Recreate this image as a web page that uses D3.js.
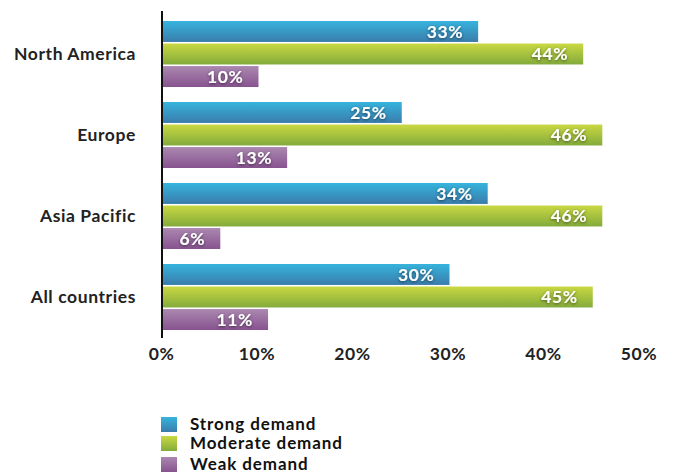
<!DOCTYPE html>
<html>
<head>
<meta charset="utf-8">
<script src="https://cdn.jsdelivr.net/npm/d3@7"></script>
<style>
  html, body { margin: 0; padding: 0; background: #fff; }
  svg { display: block; }
  text { font-family: Lato, "Open Sans", sans-serif; letter-spacing: 0.6px; }
</style>
</head>
<body>
<svg id="chart" width="673" height="472"></svg>
<script>
// Regions shown top to bottom
const regions = ["North America", "Europe", "Asia Pacific", "All countries"];
// Demand levels, in the order the bars are stacked within each region
const levels = ["Strong demand", "Moderate demand", "Weak demand"];
// Share of respondents (%) per region for each demand level
const strongDemand = [33, 25, 34, 30];
const moderateDemand = [44, 46, 46, 45];
const weakDemand = [10, 13, 6, 11];
// X axis ticks (%)
const xTicks = [0, 10, 20, 30, 40, 50];

const seriesValues = [strongDemand, moderateDemand, weakDemand];
const gradientStops = [
  ["#36b4dd", "#3a7cab"],
  ["#cad842", "#83ab3b"],
  ["#ab88b0", "#87538f"]
];

const svg = d3.select("#chart");

const x = d3.scaleLinear().domain([0, 50]).range([163, 640.5]);
const y0 = d3.scaleBand().domain(regions).range([21, 330]).paddingInner(0.185).paddingOuter(0);
const y1 = d3.scaleBand().domain(levels).range([0, y0.bandwidth()]).paddingInner(0.07);

const defs = svg.append("defs");
levels.forEach((lv, i) => {
  const g = defs.append("linearGradient").attr("id", "grad" + i)
    .attr("x1", 0).attr("y1", 0).attr("x2", 0).attr("y2", 1);
  g.append("stop").attr("offset", "0%").attr("stop-color", gradientStops[i][0]);
  g.append("stop").attr("offset", "100%").attr("stop-color", gradientStops[i][1]);
});
const glow = defs.append("filter").attr("id", "glow")
  .attr("x", "-20%").attr("y", "-40%").attr("width", "140%").attr("height", "180%");
glow.append("feDropShadow").attr("dx", 0).attr("dy", 1).attr("stdDeviation", 1.6)
  .attr("flood-color", "#000").attr("flood-opacity", 0.55);

// Bars grouped by region
const groups = svg.append("g").selectAll("g").data(regions).join("g")
  .attr("transform", r => `translate(0,${y0(r)})`);

groups.each(function(region, ri) {
  const g = d3.select(this);
  levels.forEach((lv, li) => {
    const v = seriesValues[li][ri];
    g.append("rect")
      .attr("x", x(0))
      .attr("y", y1(lv))
      .attr("width", x(v) - x(0))
      .attr("height", y1.bandwidth())
      .attr("fill", `url(#grad${li})`);
    g.append("text")
      .attr("x", x(v) - 15)
      .attr("y", y1(lv) + y1.bandwidth() / 2)
      .attr("dy", "0.36em")
      .attr("text-anchor", "end")
      .attr("fill", "#fff")
      .attr("font-size", 17.5)
      .attr("font-weight", 700)
      .attr("filter", "url(#glow)")
      .text(v + "%");
  });
});

// Region labels
svg.append("g").selectAll("text").data(regions).join("text")
  .attr("x", 136)
  .attr("y", r => y0(r) + y1("Moderate demand") + y1.bandwidth() / 2)
  .attr("dy", "0.36em")
  .attr("text-anchor", "end")
  .attr("fill", "#222")
  .attr("font-size", 17.5)
  .attr("font-weight", 700)
  .text(r => r);

// Vertical axis line
svg.append("line")
  .attr("x1", 162).attr("x2", 162)
  .attr("y1", 11).attr("y2", 338)
  .attr("stroke", "#111").attr("stroke-width", 2);

// X axis tick labels
const xAxis = d3.axisBottom(x).tickValues(xTicks).tickFormat(d => d + "%").tickSize(0);
const xg = svg.append("g").attr("transform", "translate(-2,339)").call(xAxis);
xg.select(".domain").remove();
xg.selectAll("text")
  .attr("font-family", "Lato, 'Open Sans', sans-serif")
  .attr("font-size", 17.5)
  .attr("font-weight", 700)
  .attr("fill", "#222")
  .attr("dy", "1.0em");

// Legend
const legend = svg.append("g").attr("transform", "translate(161,417)");
const legendRowY = [0, 19, 40];
levels.forEach((lv, i) => {
  const row = legend.append("g").attr("transform", `translate(0,${legendRowY[i]})`);
  row.append("rect").attr("width", 16).attr("height", 15).attr("fill", `url(#grad${i})`);
  row.append("text")
    .attr("x", 29).attr("y", 12.5)
    .attr("font-size", 17)
    .attr("font-weight", 700)
    .attr("fill", "#111")
    .style("letter-spacing", "0.9px")
    .text(lv);
});
</script>
</body>
</html>
